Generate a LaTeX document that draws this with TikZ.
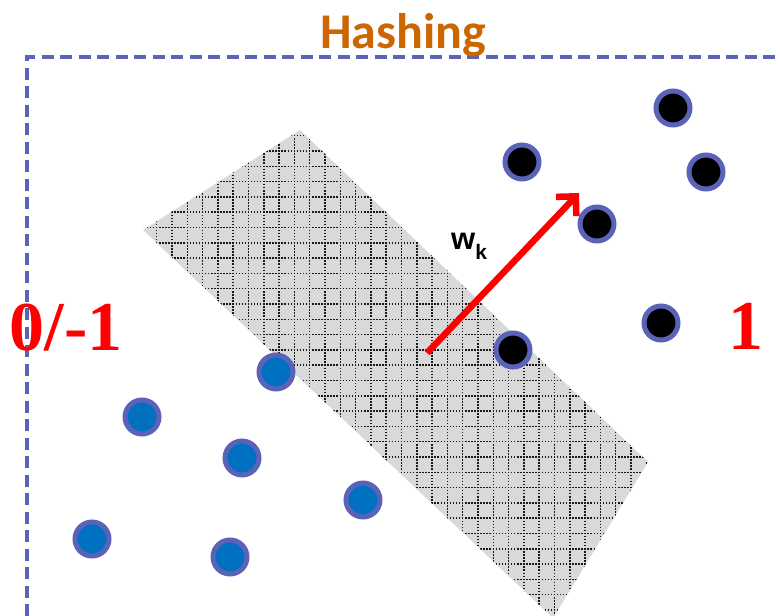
\documentclass[tikz,border=0pt]{standalone}
\usepackage{fontspec}
\usetikzlibrary{arrows.meta}
\newfontfamily\titlefont{Carlito}
\newfontfamily\numfont{Liberation Serif}
\newfontfamily\labfont{Liberation Sans}
\definecolor{ringblue}{HTML}{5B63B8}
\definecolor{dotblue}{HTML}{0070C0}
\definecolor{titleorange}{HTML}{CC6600}
\definecolor{planegray}{HTML}{D9D9D9}
\begin{document}
\begin{tikzpicture}[x=1pt,y=-1pt,
  frameline/.style={draw=ringblue,line width=3.2pt,dash pattern=on 12pt off 6.5pt},
  dotbase/.style={circle,draw=ringblue,line width=5pt,minimum size=34pt,inner sep=0pt},
  blackdot/.style={dotbase,fill=black},
  bluedot/.style={dotbase,fill=dotblue},
  gridline/.style={draw=black!90,line width=1.5pt,dash pattern=on 1.5pt off 1.56pt},
  classlabel/.style={text=red,font=\numfont\bfseries\fontsize{70}{80}\selectfont,inner sep=0pt,anchor=base},
  wvec/.style={draw=red,line width=6.5pt,-{Straight Barb[length=14pt,width=28pt,line width=6.5pt]}}
]
\useasboundingbox (0,0) rectangle (780,616);
% dashed frame
\coordinate (fb) at (27,616);
\coordinate (fc) at (27,57);
\coordinate (fr) at (780,57);
\draw[frameline] (fb) -- (fc) -- (fr);
% title
\node[anchor=base,inner sep=0pt,text=titleorange,font=\titlefont\bfseries\fontsize{50}{60}\selectfont] (title) at (403,48) {Hashing};
% hyperplane
\coordinate (p1) at (143,230);
\coordinate (p2) at (300,130);
\coordinate (p3) at (648,462);
\coordinate (p4) at (553,618);
\fill[planegray] (p1) -- (p2) -- (p3) -- (p4) -- cycle;
\begin{scope}
  \clip (p1) -- (p2) -- (p3) -- (p4) -- cycle;
  \foreach \k in {-1,...,33} {
    \draw[gridline] ({156.7+15.3*\k},119.65) -- ({156.7+15.3*\k},625);
  }
  \foreach \k in {-2,...,31} {
    \draw[gridline] (125.35,{151+15.3*\k}) -- (665,{151+15.3*\k});
  }
\end{scope}
% class labels
\node[classlabel] (neg) at (66,350) {0/-1};
\node[classlabel] (pos) at (746,349) {1};
% points
\node[blackdot] (b1) at (673,108) {};
\node[blackdot] (b2) at (522,162) {};
\node[blackdot] (b3) at (706,172) {};
\node[blackdot] (b4) at (597,224) {};
\node[blackdot] (b5) at (661,323) {};
\node[blackdot] (b6) at (513,350) {};
\node[bluedot] (u1) at (276,372) {};
\node[bluedot] (u2) at (142,417) {};
\node[bluedot] (u3) at (242,458) {};
\node[bluedot] (u4) at (363,500) {};
\node[bluedot] (u5) at (92,539) {};
\node[bluedot] (u6) at (230,557) {};
% weight vector
\coordinate (ws) at (427,353);
\coordinate (we) at (579,193);
\draw[wvec] (ws) -- (we);
\node[anchor=base west,inner sep=0pt,font=\labfont\bfseries] (wk) at (451,249)
  {\fontsize{31}{36}\selectfont w\raisebox{-10pt}{\fontsize{21}{24}\selectfont k}};
\end{tikzpicture}
\end{document}
